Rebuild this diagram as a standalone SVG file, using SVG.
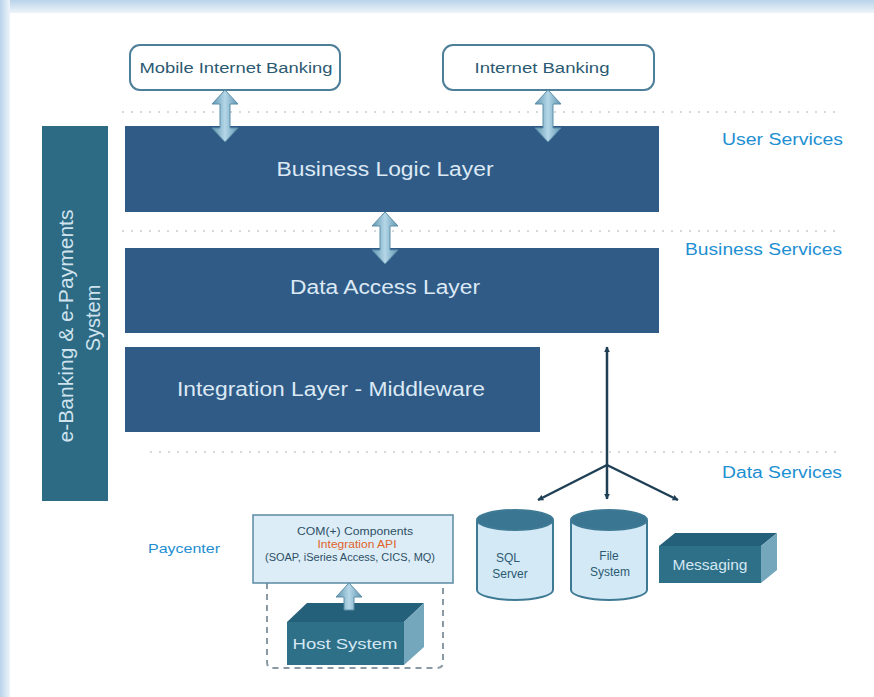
<svg xmlns="http://www.w3.org/2000/svg" width="874" height="697" viewBox="0 0 874 697">
<defs>
<linearGradient id="topGlow" x1="0" y1="0" x2="0" y2="1"><stop offset="0" stop-color="#b9d3ea"/><stop offset="1" stop-color="#eef4fa"/></linearGradient>
<linearGradient id="leftGlow" x1="0" y1="0" x2="1" y2="0"><stop offset="0" stop-color="#b9d3ea"/><stop offset="1" stop-color="#eef4fa"/></linearGradient>
<linearGradient id="fatArrow" x1="0" y1="0" x2="1" y2="0"><stop offset="0" stop-color="#5f95b0"/><stop offset="0.5" stop-color="#b5d7e8"/><stop offset="1" stop-color="#5f95b0"/></linearGradient>
<marker id="ah" viewBox="0 0 10 10" refX="9" refY="5" markerWidth="6" markerHeight="6" orient="auto-start-reverse" markerUnits="userSpaceOnUse"><path d="M0,0 L10,5 L0,10 z" fill="#1f3f55"/></marker>
</defs>
<style>
text{font-family:"Liberation Sans",Arial,sans-serif}
.layer{fill:#2f5b86}
.ltxt{font-size:20px;fill:#dce9f5;text-anchor:middle}
.client{fill:#ffffff;stroke:#4d7f98;stroke-width:2}
.ctxt{font-size:14px;fill:#2c5a72;text-anchor:middle}
.svc{font-size:16px;fill:#1e8fd2}
.dots{stroke:#d6d9dc;stroke-width:2;stroke-dasharray:2 7;fill:none}
.fat{fill:url(#fatArrow);stroke:#5b8ea8;stroke-width:1}
.conn{stroke:#1f3f55;stroke-width:2.5;fill:none}
.cylBody{fill:#d3e9f6;stroke:#3f7a95;stroke-width:2}
.cylTop{fill:#3a7592;stroke:#3f7a95;stroke-width:2}
.dtxt{font-size:12px;fill:#2c5a72;text-anchor:middle}
.boxFront{fill:#2f7089}
.boxTop{fill:#24607a}
.boxSide{fill:#74a6bc}
.btxt{font-size:15px;fill:#d4e8f2;text-anchor:middle}
.com{font-size:10px;fill:#2c4f66;text-anchor:middle}
</style>
<rect x="0" y="0" width="874" height="697" fill="#ffffff"/>
<rect x="0" y="0" width="874" height="13" fill="url(#topGlow)"/>
<rect x="0" y="0" width="10" height="697" fill="url(#leftGlow)"/>
<rect x="10" y="13" width="864" height="684" fill="#ffffff"/>

<g id="dotted-lines">
<line class="dots" x1="122" y1="112" x2="840" y2="112"/>
<line class="dots" x1="122" y1="231" x2="840" y2="231"/>
<line class="dots" x1="150" y1="452" x2="840" y2="452"/>
</g>

<g id="svc-labels">
<text class="svc" x="722" y="145" textLength="121" lengthAdjust="spacingAndGlyphs">User Services</text>
<text class="svc" x="685" y="255" textLength="157" lengthAdjust="spacingAndGlyphs">Business Services</text>
<text class="svc" x="722" y="478" textLength="120" lengthAdjust="spacingAndGlyphs">Data Services</text>
</g>

<g id="mobile">
<rect class="client" x="130" y="45" width="210" height="45" rx="10"/>
<text class="ctxt" x="236" y="73" textLength="193" lengthAdjust="spacingAndGlyphs">Mobile Internet Banking</text>
</g>
<g id="internet">
<rect class="client" x="443" y="45" width="211" height="45" rx="10"/>
<text class="ctxt" x="542" y="73" textLength="135" lengthAdjust="spacingAndGlyphs">Internet Banking</text>
</g>

<g id="ebanking">
<rect x="42" y="126" width="66" height="375" fill="#2d6a84"/>
<text transform="translate(73,326) rotate(-90)" font-size="20" fill="#cfe3ee" text-anchor="middle" textLength="233" lengthAdjust="spacingAndGlyphs">e-Banking &amp; e-Payments</text>
<text transform="translate(100,318) rotate(-90)" font-size="20" fill="#cfe3ee" text-anchor="middle">System</text>
</g>

<g id="business-logic">
<rect class="layer" x="125" y="126" width="534" height="86"/>
<text class="ltxt" x="385" y="176" textLength="217" lengthAdjust="spacingAndGlyphs">Business Logic Layer</text>
</g>
<g id="data-access">
<rect class="layer" x="125" y="248" width="534" height="85"/>
<text class="ltxt" x="385" y="294" textLength="190" lengthAdjust="spacingAndGlyphs">Data Access Layer</text>
</g>
<g id="integration">
<rect class="layer" x="125" y="347" width="415" height="85"/>
<text class="ltxt" x="331" y="396" textLength="308" lengthAdjust="spacingAndGlyphs">Integration Layer - Middleware</text>
</g>

<text id="paycenter" x="148" y="553" font-size="13" fill="#1e8fd2" textLength="72" lengthAdjust="spacingAndGlyphs">Paycenter</text>

<g id="host-group">
<path d="M267,583 V662 Q267,668 273,668 H437 Q443,668 443,662 V583" fill="none" stroke="#8a9aa5" stroke-width="2" stroke-dasharray="6 5"/>
</g>

<g id="com">
<rect x="253" y="515" width="200" height="68" fill="#dcedf7" stroke="#5a8aa2" stroke-width="1.5"/>
<text class="com" x="355" y="535" textLength="116" lengthAdjust="spacingAndGlyphs">COM(+) Components</text>
<text class="com" x="357" y="548" fill="#e0622a" style="fill:#e0622a" textLength="79" lengthAdjust="spacingAndGlyphs">Integration API</text>
<text class="com" x="350" y="561" textLength="170" lengthAdjust="spacingAndGlyphs">(SOAP, iSeries Access, CICS, MQ)</text>
</g>

<g id="host">
<polygon class="boxTop" points="287,622 307,603 424,603 404,622"/>
<polygon class="boxSide" points="404,622 424,603 424,647 404,665"/>
<rect class="boxFront" x="287" y="622" width="117" height="43"/>
<text class="btxt" x="345" y="649" textLength="105" lengthAdjust="spacingAndGlyphs">Host System</text>
</g>

<g id="sql">
<path class="cylBody" d="M477,520 V590 A38,10 0 0 0 553,590 V520"/>
<ellipse class="cylTop" cx="515" cy="520" rx="38" ry="10"/>
<text class="dtxt" x="508" y="562">SQL</text>
<text class="dtxt" x="510" y="578">Server</text>
</g>
<g id="filesystem">
<path class="cylBody" d="M571,520 V590 A38,10 0 0 0 647,590 V520"/>
<ellipse class="cylTop" cx="609" cy="520" rx="38" ry="10"/>
<text class="dtxt" x="609" y="560">File</text>
<text class="dtxt" x="610" y="576">System</text>
</g>
<g id="messaging">
<polygon class="boxTop" points="659,546 675,533 777,533 761,546"/>
<polygon class="boxSide" points="761,546 777,533 777,570 761,583"/>
<rect class="boxFront" x="659" y="546" width="102" height="37"/>
<text class="btxt" x="710" y="570" style="font-size:14px" textLength="75" lengthAdjust="spacingAndGlyphs">Messaging</text>
</g>

<g id="connectors">
<path class="fat" d="M225,90 L238,104 L230,104 L230,128 L238,128 L225,142 L212,128 L220,128 L220,104 L212,104 Z"/>
<path class="fat" d="M548,90 L561,104 L553,104 L553,128 L561,128 L548,142 L535,128 L543,128 L543,104 L535,104 Z"/>
<path class="fat" d="M385,212 L398,226 L390,226 L390,250 L398,250 L385,264 L372,250 L380,250 L380,226 L372,226 Z"/>
<path class="fat" d="M349,583 L362,597 L354,597 L354,610 L344,610 L344,597 L336,597 Z"/>
<line class="conn" x1="607" y1="347" x2="607" y2="499" marker-start="url(#ah)" marker-end="url(#ah)"/>
<line class="conn" x1="607" y1="465" x2="538" y2="500" marker-end="url(#ah)"/>
<line class="conn" x1="607" y1="465" x2="678" y2="500" marker-end="url(#ah)"/>
</g>
</svg>
